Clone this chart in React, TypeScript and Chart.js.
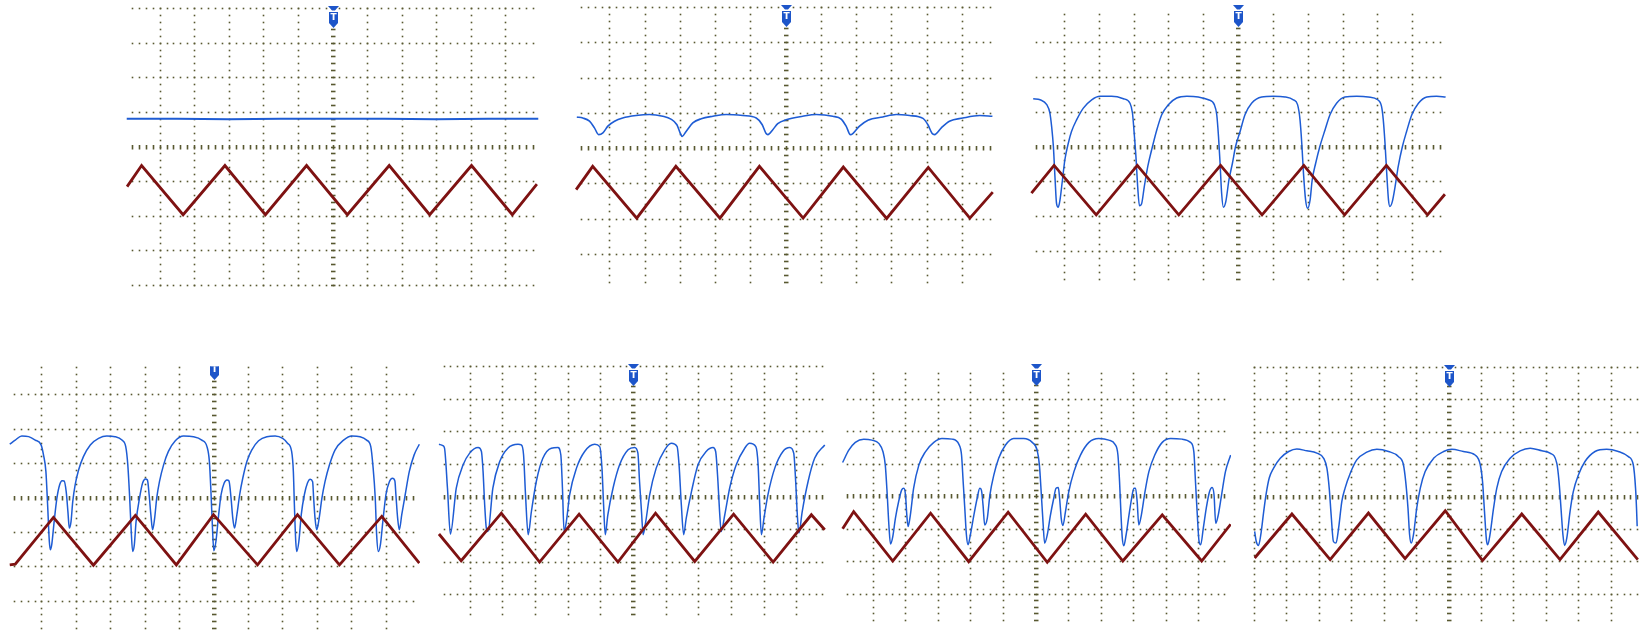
import React, { useEffect, useRef } from 'react';
import { Chart, registerables } from 'chart.js';

Chart.register(...registerables);

type Pt = [number, number];

// x = time in screen divisions from the trigger line, y = volts in divisions from the centre line
const P1_BLUE: Pt[] = [[-5.95,0.80],[-4.5,0.80],[-3.0,0.79],[-1.5,0.80],[0,0.80],[1.5,0.80],[3.0,0.79],[4.5,0.80],[5.95,0.80]];
const P1_RED: Pt[] = [[-5.94,-1.16],[-5.52,-0.55],[-4.32,-1.97],[-3.11,-0.55],[-1.94,-1.97],[-0.75,-0.55],[0.43,-1.97],[1.64,-0.55],[2.81,-1.97],[4.02,-0.55],[5.20,-1.97],[5.91,-1.09]];

const P2_BLUE: Pt[] = [[-5.92,0.88],[-5.75,0.85],[-5.56,0.76],[-5.42,0.57],[-5.30,0.38],[-5.18,0.43],[-5.04,0.62],[-4.85,0.76],[-4.62,0.85],[-4.24,0.92],[-3.86,0.95],[-3.48,0.90],[-3.25,0.82],[-3.08,0.66],[-2.99,0.43],[-2.93,0.33],[-2.82,0.47],[-2.63,0.71],[-2.39,0.83],[-2.06,0.90],[-1.68,0.95],[-1.21,0.92],[-0.83,0.85],[-0.66,0.66],[-0.55,0.41],[-0.50,0.38],[-0.36,0.52],[-0.22,0.69],[0.02,0.80],[0.49,0.90],[0.87,0.95],[1.34,0.90],[1.58,0.82],[1.72,0.62],[1.84,0.38],[1.91,0.41],[2.10,0.62],[2.34,0.79],[2.76,0.88],[3.14,0.95],[3.52,0.92],[3.90,0.84],[4.04,0.66],[4.16,0.41],[4.23,0.38],[4.42,0.57],[4.65,0.76],[5.03,0.85],[5.51,0.92],[5.87,0.90]];
const P2_RED: Pt[] = [[-5.94,-1.18],[-5.47,-0.52],[-4.22,-1.99],[-3.11,-0.52],[-1.86,-1.99],[-0.74,-0.52],[0.50,-1.99],[1.64,-0.54],[2.87,-2.0],[4.05,-0.55],[5.23,-1.99],[5.88,-1.25]];

const P3_BLUE: Pt[] = [[-5.88,1.37],[-5.68,1.34],[-5.49,1.20],[-5.40,0.96],[-5.35,0.57],[-5.30,0],[-5.25,-0.96],[-5.21,-1.63],[-5.16,-1.74],[-5.11,-1.53],[-5.04,-0.96],[-4.97,-0.38],[-4.87,0.10],[-4.78,0.43],[-4.63,0.77],[-4.44,1.10],[-4.20,1.34],[-3.96,1.44],[-3.63,1.44],[-3.29,1.37],[-3.10,1.24],[-3.03,0.96],[-2.98,0.38],[-2.93,-0.29],[-2.88,-1.15],[-2.83,-1.70],[-2.77,-1.65],[-2.69,-1.15],[-2.59,-0.57],[-2.48,-0.10],[-2.33,0.48],[-2.19,0.91],[-2.00,1.20],[-1.76,1.39],[-1.47,1.44],[-1.14,1.42],[-0.85,1.34],[-0.68,1.20],[-0.61,0.91],[-0.56,0.29],[-0.52,-0.38],[-0.47,-1.34],[-0.42,-1.74],[-0.35,-1.58],[-0.26,-0.96],[-0.16,-0.48],[-0.07,0],[0.06,0.43],[0.20,0.91],[0.39,1.24],[0.68,1.42],[1.01,1.44],[1.35,1.42],[1.59,1.34],[1.71,1.20],[1.78,0.77],[1.83,0.10],[1.88,-0.77],[1.94,-1.53],[2.00,-1.77],[2.07,-1.53],[2.13,-0.96],[2.23,-0.48],[2.35,0],[2.50,0.48],[2.64,0.91],[2.83,1.24],[3.07,1.42],[3.41,1.44],[3.74,1.42],[4.01,1.34],[4.12,1.15],[4.17,0.77],[4.22,0.10],[4.27,-0.77],[4.32,-1.53],[4.36,-1.72],[4.43,-1.58],[4.51,-1.15],[4.60,-0.57],[4.72,0],[4.84,0.43],[4.99,0.91],[5.18,1.24],[5.42,1.42],[5.70,1.44],[5.96,1.42]];
const P3_RED: Pt[] = [[-5.93,-1.34],[-5.28,-0.54],[-4.07,-1.96],[-2.89,-0.54],[-1.70,-1.96],[-0.50,-0.54],[0.69,-1.96],[1.89,-0.54],[3.06,-1.96],[4.26,-0.54],[5.44,-1.96],[5.94,-1.37]];

const P4_BLUE: Pt[] = [[-5.92,1.55],[-5.76,1.67],[-5.57,1.79],[-5.37,1.77],[-5.18,1.67],[-5.01,1.53],[-4.94,1.24],[-4.87,0.76],[-4.82,-0.21],[-4.77,-1.28],[-4.74,-1.52],[-4.70,-1.37],[-4.63,-0.70],[-4.55,-0.02],[-4.47,0.37],[-4.40,0.49],[-4.34,0.48],[-4.28,0.17],[-4.23,-0.41],[-4.19,-0.89],[-4.14,-0.70],[-4.09,-0.12],[-4.02,0.37],[-3.92,0.80],[-3.78,1.19],[-3.58,1.53],[-3.34,1.72],[-3.10,1.79],[-2.86,1.77],[-2.66,1.67],[-2.55,1.48],[-2.49,0.95],[-2.44,0.08],[-2.39,-0.99],[-2.35,-1.57],[-2.30,-1.37],[-2.25,-0.70],[-2.15,-0.02],[-2.06,0.42],[-1.98,0.54],[-1.92,0.51],[-1.87,0.08],[-1.82,-0.50],[-1.77,-0.94],[-1.71,-0.60],[-1.65,-0.02],[-1.57,0.46],[-1.45,0.95],[-1.31,1.34],[-1.11,1.65],[-0.87,1.79],[-0.58,1.77],[-0.34,1.67],[-0.19,1.48],[-0.12,1.05],[-0.07,0.08],[-0.03,-0.89],[0.01,-1.55],[0.07,-1.28],[0.15,-0.50],[0.22,0.08],[0.31,0.42],[0.39,0.51],[0.45,0.48],[0.51,-0.02],[0.56,-0.60],[0.61,-0.89],[0.68,-0.50],[0.76,0.08],[0.85,0.56],[0.97,1.05],[1.11,1.38],[1.31,1.65],[1.55,1.77],[1.79,1.79],[2.01,1.72],[2.15,1.58],[2.27,1.34],[2.32,0.76],[2.35,-0.21],[2.39,-1.28],[2.42,-1.57],[2.48,-1.28],[2.55,-0.50],[2.64,0.08],[2.73,0.42],[2.81,0.53],[2.88,0.46],[2.91,-0.02],[2.95,-0.60],[3.00,-0.94],[3.07,-0.60],[3.15,-0.02],[3.24,0.46],[3.37,0.95],[3.53,1.38],[3.78,1.67],[4.02,1.79],[4.26,1.77],[4.45,1.67],[4.57,1.48],[4.63,0.95],[4.70,-0.02],[4.74,-1.08],[4.79,-1.57],[4.85,-1.37],[4.92,-0.70],[5.01,0.08],[5.11,0.46],[5.20,0.56],[5.27,0.48],[5.30,0.08],[5.35,-0.60],[5.40,-0.94],[5.47,-0.50],[5.57,0.08],[5.69,0.76],[5.83,1.24],[5.98,1.55]];
const P4_RED: Pt[] = [[-5.92,-1.96],[-5.76,-1.94],[-4.65,-0.58],[-3.49,-1.97],[-2.27,-0.52],[-1.08,-1.96],[0,-0.50],[1.28,-1.96],[2.44,-0.50],[3.66,-1.96],[4.89,-0.55],[5.98,-1.91]];

const P5_BLUE: Pt[] = [[-5.94,1.60],[-5.82,1.56],[-5.77,1.48],[-5.68,0.26],[-5.59,-1.15],[-5.41,0.26],[-5.20,0.97],[-5.00,1.33],[-4.74,1.50],[-4.64,1.38],[-4.59,0.77],[-4.54,-0.26],[-4.49,-0.97],[-4.44,-1.07],[-4.29,0.26],[-4.08,1.07],[-3.83,1.48],[-3.52,1.60],[-3.42,1.58],[-3.35,1.28],[-3.29,0.05],[-3.21,-1.17],[-3.11,-0.46],[-2.96,0.46],[-2.76,1.17],[-2.50,1.48],[-2.30,1.50],[-2.21,1.28],[-2.16,0.26],[-2.11,-1.07],[-2.04,-0.77],[-1.94,0.05],[-1.73,0.87],[-1.48,1.38],[-1.17,1.60],[-1.02,1.53],[-0.95,0.87],[-0.90,-0.26],[-0.85,-1.17],[-0.77,-0.56],[-0.61,0.26],[-0.41,0.97],[-0.15,1.43],[0.05,1.50],[0.15,1.33],[0.20,0.46],[0.26,-0.46],[0.31,-1.17],[0.39,-0.77],[0.51,0.05],[0.71,0.87],[0.97,1.43],[1.17,1.63],[1.35,1.53],[1.41,0.97],[1.48,-0.26],[1.55,-1.17],[1.63,-0.66],[1.79,0.15],[1.99,0.97],[2.24,1.38],[2.45,1.50],[2.53,1.38],[2.60,0.46],[2.65,-0.46],[2.70,-1.07],[2.81,-0.56],[2.96,0.26],[3.16,0.97],[3.42,1.48],[3.57,1.63],[3.76,1.53],[3.83,0.97],[3.88,-0.26],[3.93,-1.17],[4.01,-0.66],[4.13,0.05],[4.34,0.87],[4.59,1.38],[4.80,1.50],[4.92,1.33],[4.98,0.46],[5.03,-0.56],[5.08,-1.12],[5.18,-0.46],[5.36,0.46],[5.56,1.17],[5.87,1.58]];
const P5_RED: Pt[] = [[-5.94,-1.15],[-5.26,-1.97],[-4.03,-0.51],[-2.86,-2.01],[-1.65,-0.54],[-0.46,-2.01],[0.69,-0.51],[1.89,-1.99],[3.08,-0.54],[4.29,-2.01],[5.46,-0.56],[5.87,-1.02]];

const P6_BLUE: Pt[] = [[-5.92,1.03],[-5.73,1.41],[-5.53,1.65],[-5.27,1.75],[-5.02,1.72],[-4.81,1.62],[-4.68,1.36],[-4.61,0.95],[-4.55,0.03],[-4.50,-0.89],[-4.45,-1.48],[-4.38,-1.25],[-4.30,-0.69],[-4.20,-0.17],[-4.11,0.18],[-4.04,0.24],[-3.99,0.03],[-3.95,-0.58],[-3.91,-0.94],[-3.84,-0.58],[-3.74,0.24],[-3.58,0.95],[-3.38,1.36],[-3.12,1.65],[-2.87,1.77],[-2.56,1.75],[-2.35,1.59],[-2.27,1.26],[-2.22,0.44],[-2.17,-0.38],[-2.12,-1.20],[-2.07,-1.50],[-2.00,-1.20],[-1.89,-0.58],[-1.79,-0.07],[-1.71,0.24],[-1.66,0.18],[-1.61,-0.28],[-1.56,-0.89],[-1.48,-0.69],[-1.40,0.03],[-1.28,0.64],[-1.13,1.16],[-0.92,1.57],[-0.67,1.77],[-0.36,1.77],[-0.10,1.65],[0.05,1.41],[0.12,0.95],[0.18,0.03],[0.23,-0.79],[0.28,-1.45],[0.36,-1.20],[0.46,-0.58],[0.56,-0.07],[0.63,0.24],[0.70,0.26],[0.74,-0.07],[0.79,-0.69],[0.84,-0.91],[0.92,-0.48],[1.02,0.13],[1.18,0.75],[1.38,1.26],[1.64,1.65],[1.94,1.77],[2.25,1.72],[2.44,1.59],[2.53,1.26],[2.58,0.44],[2.62,-0.48],[2.66,-1.25],[2.71,-1.53],[2.78,-1.20],[2.87,-0.58],[2.95,-0.07],[3.02,0.24],[3.07,0.24],[3.12,-0.17],[3.17,-0.89],[3.25,-0.58],[3.36,0.13],[3.48,0.75],[3.66,1.26],[3.89,1.65],[4.15,1.77],[4.50,1.75],[4.76,1.65],[4.86,1.36],[4.91,0.44],[4.96,-0.48],[5.02,-1.40],[5.07,-1.50],[5.15,-0.99],[5.24,-0.38],[5.34,0.13],[5.42,0.26],[5.48,0.03],[5.53,-0.84],[5.61,-0.58],[5.71,0.03],[5.83,0.75],[5.99,1.26]];
const P6_RED: Pt[] = [[-5.92,-1.01],[-5.58,-0.48],[-4.38,-2.00],[-3.22,-0.53],[-2.05,-2.02],[-0.84,-0.50],[0.36,-2.04],[1.54,-0.56],[2.68,-2.00],[3.89,-0.58],[5.10,-2.00],[5.99,-0.87]];

const P7_BLUE: Pt[] = [[-5.98,-1.08],[-5.93,-1.39],[-5.86,-1.51],[-5.79,-1.18],[-5.70,-0.46],[-5.63,0.05],[-5.53,0.57],[-5.40,0.87],[-5.19,1.18],[-4.93,1.39],[-4.68,1.47],[-4.37,1.41],[-4.06,1.34],[-3.85,1.18],[-3.75,0.87],[-3.68,0.26],[-3.62,-0.57],[-3.55,-1.39],[-3.47,-1.44],[-3.39,-0.98],[-3.29,-0.15],[-3.19,0.26],[-3.03,0.72],[-2.83,1.13],[-2.52,1.37],[-2.21,1.46],[-1.85,1.39],[-1.54,1.23],[-1.39,0.98],[-1.32,0.46],[-1.25,-0.36],[-1.20,-1.18],[-1.15,-1.44],[-1.08,-1.18],[-0.98,-0.36],[-0.87,0.26],[-0.72,0.77],[-0.46,1.18],[-0.15,1.39],[0.10,1.46],[0.46,1.39],[0.82,1.28],[0.98,0.98],[1.05,0.46],[1.11,-0.46],[1.17,-1.34],[1.21,-1.49],[1.28,-1.18],[1.39,-0.36],[1.49,0.26],[1.64,0.77],[1.90,1.18],[2.21,1.41],[2.52,1.49],[2.88,1.41],[3.13,1.34],[3.34,1.03],[3.41,0.46],[3.47,-0.36],[3.53,-1.18],[3.58,-1.51],[3.65,-1.28],[3.75,-0.46],[3.85,0.15],[4.01,0.67],[4.21,1.08],[4.52,1.39],[4.88,1.46],[5.24,1.39],[5.55,1.23],[5.70,0.98],[5.77,0.26],[5.80,-0.36],[5.82,-0.92]];
const P7_RED: Pt[] = [[-5.98,-1.90],[-4.83,-0.54],[-3.65,-1.95],[-2.47,-0.51],[-1.34,-1.92],[-0.10,-0.44],[1.05,-1.98],[2.26,-0.54],[3.44,-1.95],[4.62,-0.48],[5.84,-1.95]];

const BLUE = '#1e5cd4';
const RED = '#7e1212';
const GRID = 'rgb(88,88,48)';
const MARK = '#1d55c9';
const PAD = 8;

interface Spec {
  blue: Pt[]; red: Pt[];
  cx: number; cy: number; d: number;
  topRow: boolean; bottomRow: boolean;
  vMin: number; vMax: number; hMin: number; hMax: number;
  cols: number[]; blueW: number; clipTop?: number;
}

const COLS = [-5, -4, -3, -2, -1, 1, 2, 3, 4, 5];

const PANELS: Spec[] = [
  { blue: P1_BLUE, red: P1_RED, cx: 332.7, cy: 146.7, d: 34.6, topRow: true, bottomRow: true, vMin: -4, vMax: 4, hMin: -5.8, hMax: 5.8, cols: COLS, blueW: 2 },
  { blue: P2_BLUE, red: P2_RED, cx: 785.5, cy: 148.3, d: 35.24, topRow: true, bottomRow: false, vMin: -3.8, vMax: 4, hMin: -5.8, hMax: 5.8, cols: COLS, blueW: 1.6 },
  { blue: P3_BLUE, red: P3_RED, cx: 1238.3, cy: 146.7, d: 34.84, topRow: false, bottomRow: false, vMin: -3.8, vMax: 3.8, hMin: -5.8, hMax: 5.8, cols: COLS, blueW: 1.5 },
  { blue: P4_BLUE, red: P4_RED, cx: 213.3, cy: 497.7, d: 34.4, topRow: false, bottomRow: false, vMin: -4, vMax: 3.8, hMin: -5.8, hMax: 5.8, cols: COLS, blueW: 1.5, clipTop: 3.82 },
  { blue: P5_BLUE, red: P5_RED, cx: 633.3, cy: 496.7, d: 32.67, topRow: true, bottomRow: false, vMin: -3.6, vMax: 4, hMin: -5.8, hMax: 5.8, cols: COLS, blueW: 1.5 },
  { blue: P6_BLUE, red: P6_RED, cx: 1035, cy: 496, d: 32.56, topRow: false, bottomRow: false, vMin: -3.8, vMax: 3.8, hMin: -5.8, hMax: 5.8, cols: COLS, blueW: 1.5 },
  { blue: P7_BLUE, red: P7_RED, cx: 1448.3, cy: 496.7, d: 32.43, topRow: true, bottomRow: false, vMin: -3.8, vMax: 4, hMin: -6, hMax: 5.8, cols: [-6, ...COLS], blueW: 1.5 },
];

function scopePlugin(p: Spec) {
  return {
    id: 'scopeGrid',
    beforeDatasetsDraw(chart: any) {
      const { ctx } = chart;
      const xs = chart.scales.x, ys = chart.scales.y;
      const X = (v: number) => Math.round(xs.getPixelForValue(v));
      const Y = (v: number) => Math.round(ys.getPixelForValue(v));
      ctx.save();
      ctx.fillStyle = GRID;
      const rows = [-3, -2, -1, 1, 2, 3];
      if (p.topRow) rows.push(4);
      if (p.bottomRow) rows.push(-4);
      const h0 = Math.round(p.hMin * 5), h1 = Math.round(p.hMax * 5);
      const v0 = Math.round(p.vMin * 5), v1 = Math.round(p.vMax * 5);
      const S = 1.6;
      for (const r of rows) {
        const py = Y(r);
        for (let i = h0; i <= h1; i++) ctx.fillRect(X(i / 5) - 0.3, py - 0.3, S, S);
      }
      for (const c of p.cols) {
        const px = X(c);
        for (let j = v0; j <= v1; j++) ctx.fillRect(px - 0.3, Y(j / 5) - 0.3, S, S);
      }
      const cy0 = Y(0), cx0 = X(0);
      for (let i = h0; i <= h1; i++) ctx.fillRect(X(i / 5) - 0.3, cy0 - 2, S, 4.5);
      for (let j = v0; j <= v1; j++) ctx.fillRect(cx0 - 2, Y(j / 5) - 0.3, 4.5, S);
      ctx.restore();
    },
    afterDatasetsDraw(chart: any) {
      const { ctx } = chart;
      const xs = chart.scales.x, ys = chart.scales.y;
      const c = Math.round(xs.getPixelForValue(0)) + 0.5;
      const t = Math.round(ys.getPixelForValue(4)) - 2;
      ctx.save();
      if (p.clipTop !== undefined) {
        const cy = ys.getPixelForValue(p.clipTop);
        ctx.beginPath();
        ctx.rect(0, cy, chart.width, chart.height);
        ctx.clip();
      }
      ctx.fillStyle = MARK;
      ctx.beginPath();
      ctx.moveTo(c - 5.5, t);
      ctx.lineTo(c + 5.5, t);
      ctx.lineTo(c + 1.5, t + 4.5);
      ctx.lineTo(c - 1.5, t + 4.5);
      ctx.closePath();
      ctx.fill();
      ctx.beginPath();
      ctx.moveTo(c - 4.5, t + 6);
      ctx.lineTo(c + 4.5, t + 6);
      ctx.lineTo(c + 4.5, t + 17);
      ctx.lineTo(c, t + 22);
      ctx.lineTo(c - 4.5, t + 17);
      ctx.closePath();
      ctx.fill();
      ctx.fillStyle = '#ffffff';
      ctx.font = 'bold 9px "DejaVu Sans"';
      ctx.textAlign = 'center';
      ctx.textBaseline = 'top';
      ctx.fillText('T', c, t + 7);
      ctx.restore();
    },
  };
}

function Panel({ spec }: { spec: Spec }) {
  const ref = useRef<HTMLCanvasElement | null>(null);
  const left = Math.round(spec.cx - 6 * spec.d - PAD);
  const top = Math.round(spec.cy - 4 * spec.d - PAD);
  const width = Math.round(12 * spec.d + 2 * PAD);
  const height = Math.round(8 * spec.d + 2 * PAD);

  useEffect(() => {
    if (!ref.current) return;
    const chart = new Chart(ref.current, {
      type: 'line',
      data: {
        datasets: [
          {
            data: spec.red.map(([x, y]) => ({ x, y })),
            borderColor: RED,
            borderWidth: 2.8,
            pointRadius: 0,
            tension: 0,
            fill: false,
          },
          {
            data: spec.blue.map(([x, y]) => ({ x, y })),
            borderColor: BLUE,
            borderWidth: spec.blueW,
            pointRadius: 0,
            cubicInterpolationMode: 'monotone',
            fill: false,
          },
        ],
      },
      options: {
        animation: false,
        responsive: false,
        devicePixelRatio: 1,
        events: [],
        layout: { padding: PAD },
        plugins: { legend: { display: false }, tooltip: { enabled: false } },
        scales: {
          x: { type: 'linear', min: -6, max: 6, display: false },
          y: { type: 'linear', min: -4, max: 4, display: false },
        },
      },
      plugins: [scopePlugin(spec)],
    } as any);
    return () => chart.destroy();
  }, [spec]);

  return (
    <canvas
      ref={ref}
      width={width}
      height={height}
      style={{ position: 'absolute', left, top, width, height }}
    />
  );
}

export default function App() {
  return (
    <div
      style={{
        position: 'absolute',
        left: 0,
        top: 0,
        width: 1647,
        height: 630,
        overflow: 'hidden',
        background: '#ffffff',
      }}
    >
      {PANELS.map((p, i) => (
        <Panel key={i} spec={p} />
      ))}
    </div>
  );
}
